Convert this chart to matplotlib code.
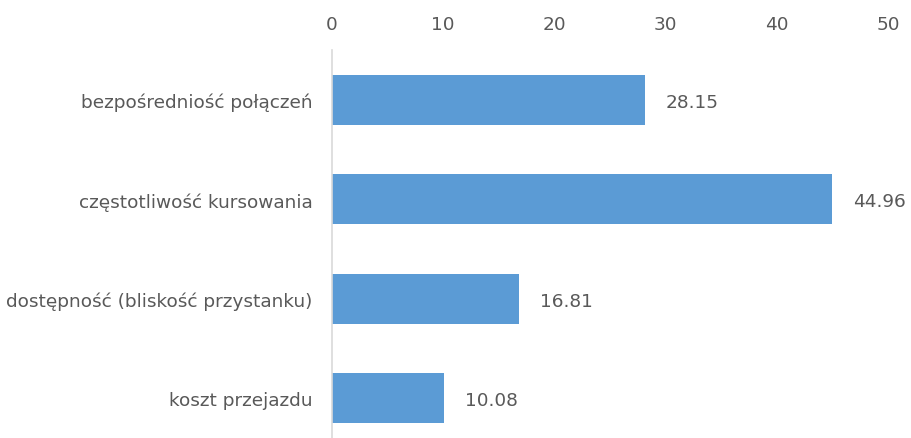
import matplotlib
matplotlib.use("Agg")
import matplotlib.pyplot as plt

categories = ["bezpośredniość połączeń", "częstotliwość kursowania",
              "dostępność (bliskość przystanku)", "koszt przejazdu"]
values = [28.15, 44.96, 16.81, 10.08]
xticks = [0, 10, 20, 30, 40, 50]

txt = "#595959"
plt.rcParams["font.family"] = ["DejaVu Sans"]

fig = plt.figure(figsize=(9.12, 4.39), dpi=100)
ax = fig.add_axes([332/912, 1 - 449/439, 556/912, 398/439])

ypos = list(range(len(categories)))
ax.barh(ypos, values, height=0.5, color="#5B9BD5")
for y, v in zip(ypos, values):
    ax.annotate("%.2f" % v, (v, y), xytext=(15, -1.5), textcoords="offset points",
                ha="left", va="center", fontsize=13.3, color=txt)

ax.set_xlim(0, 50)
ax.set_ylim(3.5, -0.5)
ax.set_xticks(xticks)
ax.set_yticks(ypos)
ax.set_yticklabels(categories)
ax.xaxis.tick_top()
ax.tick_params(axis="x", length=0, pad=12, labelsize=13.3, labelcolor=txt)
ax.tick_params(axis="y", length=0, pad=14, labelsize=13.3, labelcolor=txt)
for s in ["top", "right", "bottom"]:
    ax.spines[s].set_visible(False)
ax.spines["left"].set_color("#D9D9D9")
ax.spines["left"].set_linewidth(1.2)

fig.savefig("out.png", dpi=100)
